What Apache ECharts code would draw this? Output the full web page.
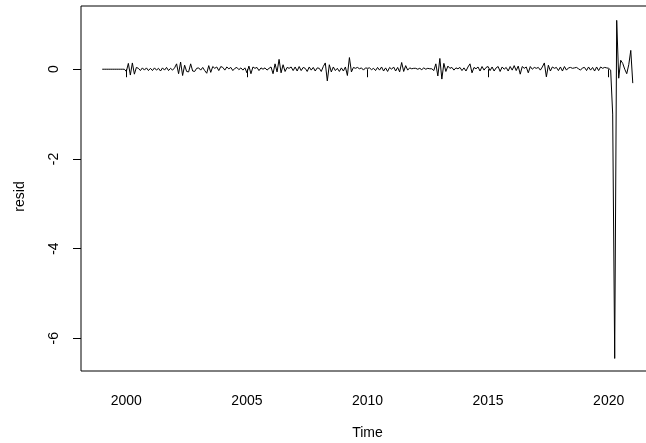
<!DOCTYPE html>
<html>
<head>
<meta charset="utf-8">
<title>resid</title>
<script src="https://cdn.jsdelivr.net/npm/echarts@6/dist/echarts.min.js"></script>
<style>
  html, body { margin: 0; padding: 0; background: #fff; }
  #chart { width: 646px; height: 443px; }
</style>
</head>
<body>
<div id="chart"></div>
<script>
// Monthly residual series, starting January 1999
const startYear = 1999;
const resid1999 = [0, 0, 0, 0, 0, 0, 0, 0, 0, 0, 0, 0];
const resid2000 = [-0.05, 0.13, -0.13, 0.14, -0.11, 0.04, 0.02, -0.03, 0.03, -0.02, 0.03, -0.03];
const resid2001 = [0.02, -0.03, 0.03, -0.02, 0.02, -0.04, 0.03, -0.02, 0.04, -0.03, 0.02, -0.02];
const resid2002 = [0.03, 0.12, -0.10, 0.16, -0.14, 0.09, -0.05, -0.06, 0.12, -0.04, -0.05, 0.02];
const resid2003 = [0.03, -0.02, 0.04, -0.03, -0.09, 0.08, -0.07, 0.06, 0.02, 0.05, -0.03, 0.06];
const resid2004 = [0.04, -0.02, 0.05, 0.01, 0.04, -0.03, 0.02, 0.04, -0.01, 0.03, -0.02, 0.03];
const resid2005 = [-0.08, 0.07, -0.10, 0.05, 0.02, 0.04, -0.03, 0.03, 0.00, 0.03, -0.02, 0.02];
const resid2006 = [0.05, -0.10, 0.12, -0.06, 0.22, -0.08, 0.10, -0.05, 0.04, 0.02, 0.05, -0.03];
const resid2007 = [0.05, -0.04, 0.06, -0.03, 0.04, 0.02, -0.05, 0.05, -0.02, 0.04, -0.04, 0.03];
const resid2008 = [0.02, -0.05, 0.06, 0.14, -0.26, 0.10, -0.06, 0.05, -0.03, 0.02, -0.05, 0.03];
const resid2009 = [-0.04, 0.05, -0.14, 0.26, -0.06, 0.04, 0.02, 0.04, 0.01, 0.03, -0.02, 0.03];
const resid2010 = [0.02, 0.03, -0.01, 0.02, -0.03, 0.04, -0.02, 0.05, -0.04, 0.03, -0.05, 0.04];
const resid2011 = [0.00, 0.05, -0.04, 0.04, -0.06, 0.15, -0.05, 0.08, -0.02, 0.03, 0.01, 0.02];
const resid2012 = [0.02, 0.00, 0.02, -0.01, 0.03, 0.00, 0.02, 0.01, 0.01, -0.03, 0.12, -0.15];
const resid2013 = [0.24, -0.22, 0.13, -0.05, 0.07, 0.02, 0.04, -0.02, 0.03, 0.01, 0.04, -0.03];
const resid2014 = [0.03, -0.04, 0.05, 0.12, -0.08, 0.04, 0.01, 0.05, -0.04, 0.06, -0.02, 0.04];
const resid2015 = [0.06, -0.03, 0.05, -0.04, 0.03, 0.06, -0.05, 0.05, 0.00, 0.04, -0.04, 0.06];
const resid2016 = [-0.02, 0.08, -0.03, 0.07, -0.11, 0.06, 0.02, 0.05, -0.08, 0.06, 0.00, 0.04];
const resid2017 = [0.02, 0.04, -0.02, 0.05, 0.14, -0.17, 0.09, -0.04, 0.05, 0.02, 0.04, -0.03];
const resid2018 = [0.05, -0.04, 0.06, -0.02, 0.03, 0.04, 0.02, 0.03, 0.04, 0.01, -0.02, 0.03];
const resid2019 = [0.04, -0.03, 0.05, -0.02, 0.04, -0.04, 0.05, -0.03, 0.05, 0.02, 0.04, 0.03];
const resid2020 = [0.02, -0.02, -1.00, -6.45, 1.09, -0.20, 0.20, 0.13, 0.00, -0.10, 0.10, 0.42];
const resid2021 = [-0.31];

// Axis ticks
const xTicks = [2000, 2005, 2010, 2015, 2020];
const yTicks = [-6, -4, -2, 0];

const residAll = [].concat(
  resid1999, resid2000, resid2001, resid2002, resid2003, resid2004, resid2005,
  resid2006, resid2007, resid2008, resid2009, resid2010, resid2011, resid2012,
  resid2013, resid2014, resid2015, resid2016, resid2017, resid2018, resid2019,
  resid2020, resid2021
);
const seriesData = residAll.map((v, i) => [startYear + i / 12, v]);

const font = '"Liberation Sans", Arial, sans-serif';
const chart = echarts.init(document.getElementById('chart'), null, { renderer: 'canvas' });

chart.setOption({
  animation: false,
  backgroundColor: '#ffffff',
  grid: {
    left: 81, top: 6, width: 573, height: 365,
    outerBoundsMode: 'none',
    containLabel: false,
    show: true, borderColor: '#000', borderWidth: 1, backgroundColor: 'transparent'
  },
  xAxis: {
    type: 'value',
    min: 1998.12, max: 2021.88,
    name: 'Time',
    nameLocation: 'middle',
    nameGap: 55,
    nameTextStyle: { color: '#000', fontFamily: font, fontSize: 14 },
    axisLine: { show: false },
    splitLine: { show: false },
    axisTick: { show: true, inside: false, length: 8, lineStyle: { color: '#000' }, customValues: xTicks },
    axisLabel: { color: '#000', fontFamily: font, fontSize: 14, margin: 23, customValues: xTicks,
      formatter: v => String(v) }
  },
  yAxis: {
    type: 'value',
    min: -6.73, max: 1.41,
    name: 'resid',
    nameLocation: 'middle',
    nameGap: 54,
    nameRotate: 90,
    nameTextStyle: { color: '#000', fontFamily: font, fontSize: 14, padding: [0, 16, 0, 0] },
    axisLine: { show: false },
    splitLine: { show: false },
    axisTick: { show: true, inside: false, length: 8, lineStyle: { color: '#000' }, customValues: yTicks },
    axisLabel: { color: '#000', fontFamily: font, fontSize: 14, margin: 20, rotate: 90,
      customValues: yTicks, formatter: v => String(v) }
  },
  series: [{
    type: 'line',
    data: seriesData,
    showSymbol: false,
    symbol: 'none',
    lineStyle: { color: '#000', width: 1 },
    clip: true
  }]
});
</script>
</body>
</html>
